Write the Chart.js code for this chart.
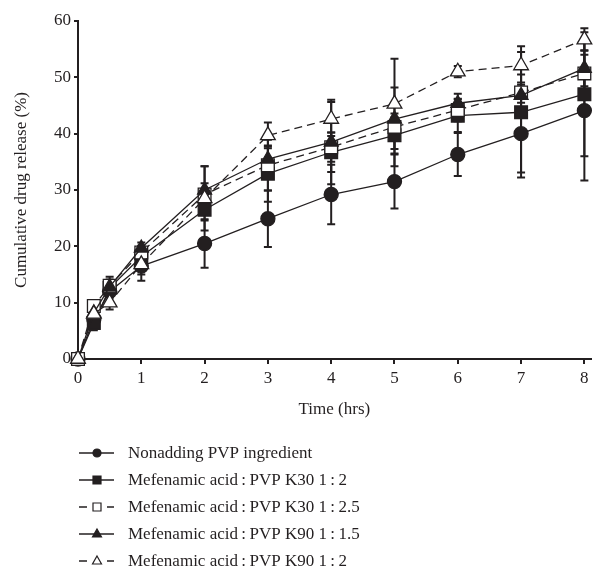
<!DOCTYPE html>
<html>
<head>
<meta charset="utf-8">
<script src="https://cdn.jsdelivr.net/npm/chart.js@4.4.1/dist/chart.umd.min.js"></script>
<style>
    html, body { margin: 0; padding: 0; background: #fff; }
    #wrap { width: 601px; height: 571px; }
</style>
</head>
<body>
<div id="wrap"><canvas id="releaseChart" width="601" height="571"></canvas></div>
<script>
// Datos
const timePoints = [0, 0.25, 0.5, 1, 2, 3, 4, 5, 6, 7, 8];
const yTickValues = [0, 10, 20, 30, 40, 50, 60];
const xTickValues = [0, 1, 2, 3, 4, 5, 6, 7, 8];

const seriesNames = [
    'Nonadding PVP ingredient',
    'Mefenamic acid\u2009:\u2009PVP K30 1\u2009:\u20092',
    'Mefenamic acid\u2009:\u2009PVP K30 1\u2009:\u20092.5',
    'Mefenamic acid\u2009:\u2009PVP K90 1\u2009:\u20091.5',
    'Mefenamic acid\u2009:\u2009PVP K90 1\u2009:\u20092'
];

const nonadding = [0, 7, 12, 16.5, 20.5, 24.9, 29.2, 31.5, 36.3, 40, 44.1];
const k30r2 = [0, 6.4, 12.6, 18.2, 26.5, 32.9, 36.7, 39.7, 43.2, 43.8, 47];
const k30r25 = [0, 9.4, 13, 18.9, 29.2, 34.4, 37.6, 41.2, 44.2, 47.3, 50.7];
const k90r15 = [0, 8.2, 12.8, 19.7, 30, 35.5, 38.5, 42.6, 45.4, 46.8, 51.6];
const k90r2 = [0, 8, 10, 16.8, 28.5, 39.7, 42.6, 45.3, 51, 52.1, 56.7];

const nonaddingSd = [0, 0.8, 1, 1.5, 4.3, 5, 5.3, 4.8, 3.8, 7.8, 12.4];
const k30r2Sd = [0, 1.3, 1.5, 1.2, 1.9, 5, 3.5, 3.2, 2.9, 10.7, 11];
const k30r25Sd = [0, 0.8, 1, 1.2, 2, 4.5, 2.6, 7, 2, 1.8, 3.3];
const k90r15Sd = [0, 1, 1.8, 1, 4.2, 2.2, 7.5, 1, 1.7, 3.7, 3.2];
const k90r2Sd = [0, 1, 1.2, 2.9, 5.7, 2.3, 3, 8, 1, 3.4, 2];

const ink = '#231f20';
const serif = "'Liberation Serif', 'DejaVu Serif', serif";

function toPoints(values) {
    return values.map((v, i) => ({ x: timePoints[i], y: v }));
}

function makeSet(idx, values, sd, style, filled, dashed, radius) {
    return {
        label: seriesNames[idx],
        order: -idx, // las últimas series quedan encima
        data: toPoints(values),
        errors: sd,
        borderColor: ink,
        borderWidth: 1.3,
        borderDash: dashed ? [8, 5] : [],
        pointStyle: style,
        pointRadius: radius,
        pointHoverRadius: radius,
        pointBackgroundColor: filled ? ink : '#ffffff',
        pointBorderColor: ink,
        pointBorderWidth: 1.3,
        tension: 0,
        fill: false,
        clip: false,
        filledMarker: filled,
        dashedLine: dashed
    };
}

// barras de error (desviación estándar)
const errorBars = {
    id: 'errorBars',
    beforeDatasetsDraw(chart) {
        const ctx = chart.ctx;
        const xs = chart.scales.x;
        const ys = chart.scales.y;
        ctx.save();
        ctx.strokeStyle = ink;
        ctx.lineWidth = 2;
        chart.data.datasets.forEach(ds => {
            ds.data.forEach((p, i) => {
                const e = ds.errors[i];
                if (!e) return;
                const x = xs.getPixelForValue(p.x);
                const yTop = ys.getPixelForValue(p.y + e);
                const yBot = ys.getPixelForValue(p.y - e);
                ctx.beginPath();
                ctx.moveTo(x, yTop);
                ctx.lineTo(x, yBot);
                ctx.moveTo(x - 4, yTop);
                ctx.lineTo(x + 4, yTop);
                ctx.moveTo(x - 4, yBot);
                ctx.lineTo(x + 4, yBot);
                ctx.stroke();
            });
        });
        ctx.restore();
    }
};

function drawMarker(ctx, style, x, y, filled) {
    ctx.beginPath();
    if (style === 'circle') {
        ctx.arc(x, y, 4, 0, Math.PI * 2);
    } else if (style === 'rect') {
        ctx.rect(x - 4, y - 4, 8, 8);
    } else {
        ctx.moveTo(x, y - 5);
        ctx.lineTo(x + 4.5, y + 3);
        ctx.lineTo(x - 4.5, y + 3);
        ctx.closePath();
    }
    ctx.fillStyle = filled ? ink : '#ffffff';
    ctx.fill();
    ctx.lineWidth = 1.2;
    ctx.strokeStyle = ink;
    ctx.stroke();
}

// leyenda vertical bajo el eje
const bottomLegend = {
    id: 'bottomLegend',
    afterDraw(chart) {
        const ctx = chart.ctx;
        const area = chart.chartArea;
        ctx.save();
        chart.data.datasets.forEach((ds, i) => {
            const y = area.bottom + 94 + i * 27;
            ctx.strokeStyle = ink;
            ctx.lineWidth = 1.3;
            ctx.setLineDash([]);
            ctx.beginPath();
            if (ds.dashedLine) {
                ctx.moveTo(79, y); ctx.lineTo(87, y);
                ctx.moveTo(107, y); ctx.lineTo(114, y);
            } else {
                ctx.moveTo(79, y); ctx.lineTo(114, y);
            }
            ctx.stroke();
            drawMarker(ctx, ds.pointStyle, 97, y, ds.filledMarker);
            ctx.fillStyle = ink;
            ctx.font = '17px ' + serif;
            ctx.textBaseline = 'middle';
            ctx.textAlign = 'left';
            ctx.fillText(ds.label, 128, y + 1);
        });
        ctx.restore();
    }
};

const chartConfig = {
    type: 'line',
    data: {
        datasets: [
            makeSet(0, nonadding, nonaddingSd, 'circle', true, false, 7),
            makeSet(1, k30r2, k30r2Sd, 'rect', true, false, 9),
            makeSet(2, k30r25, k30r25Sd, 'rect', false, true, 9),
            makeSet(3, k90r15, k90r15Sd, 'triangle', true, false, 8),
            makeSet(4, k90r2, k90r2Sd, 'triangle', false, true, 8.5)
        ]
    },
    options: {
        responsive: false,
        animation: false,
        layout: { padding: { top: 21, right: 9, bottom: 150, left: 0 } },
        plugins: {
            legend: { display: false },
            tooltip: { enabled: false }
        },
        scales: {
            x: {
                type: 'linear',
                min: 0,
                max: 8.1,
                afterFit: s => { s.height = 62; },
                afterBuildTicks: s => { s.ticks = xTickValues.map(v => ({ value: v })); },
                ticks: { color: ink, font: { family: serif, size: 17 }, padding: 4, maxRotation: 0 },
                grid: { drawOnChartArea: false, color: ink, lineWidth: 2, tickLength: 5 },
                border: { color: ink, width: 2 },
                title: { display: true, text: 'Time (hrs)', color: ink, font: { family: serif, size: 17 }, padding: { top: 0, bottom: 1 } }
            },
            y: {
                min: 0,
                max: 60,
                afterFit: s => { s.width = 78; },
                afterBuildTicks: s => { s.ticks = yTickValues.map(v => ({ value: v })); },
                ticks: { color: ink, font: { family: serif, size: 17 }, padding: 3 },
                grid: { drawOnChartArea: false, color: ink, lineWidth: 2, tickLength: 4 },
                border: { color: ink, width: 2 },
                title: { display: true, text: 'Cumulative drug release (%)', color: ink, font: { family: serif, size: 17 }, padding: { top: 11, bottom: 0 } }
            }
        }
    },
    plugins: [errorBars, bottomLegend]
};

function initializeChart() {
    const canvas = document.getElementById('releaseChart');
    if (canvas) {
        new Chart(canvas.getContext('2d'), chartConfig);
    }
}

document.addEventListener('DOMContentLoaded', initializeChart);
</script>
</body>
</html>
